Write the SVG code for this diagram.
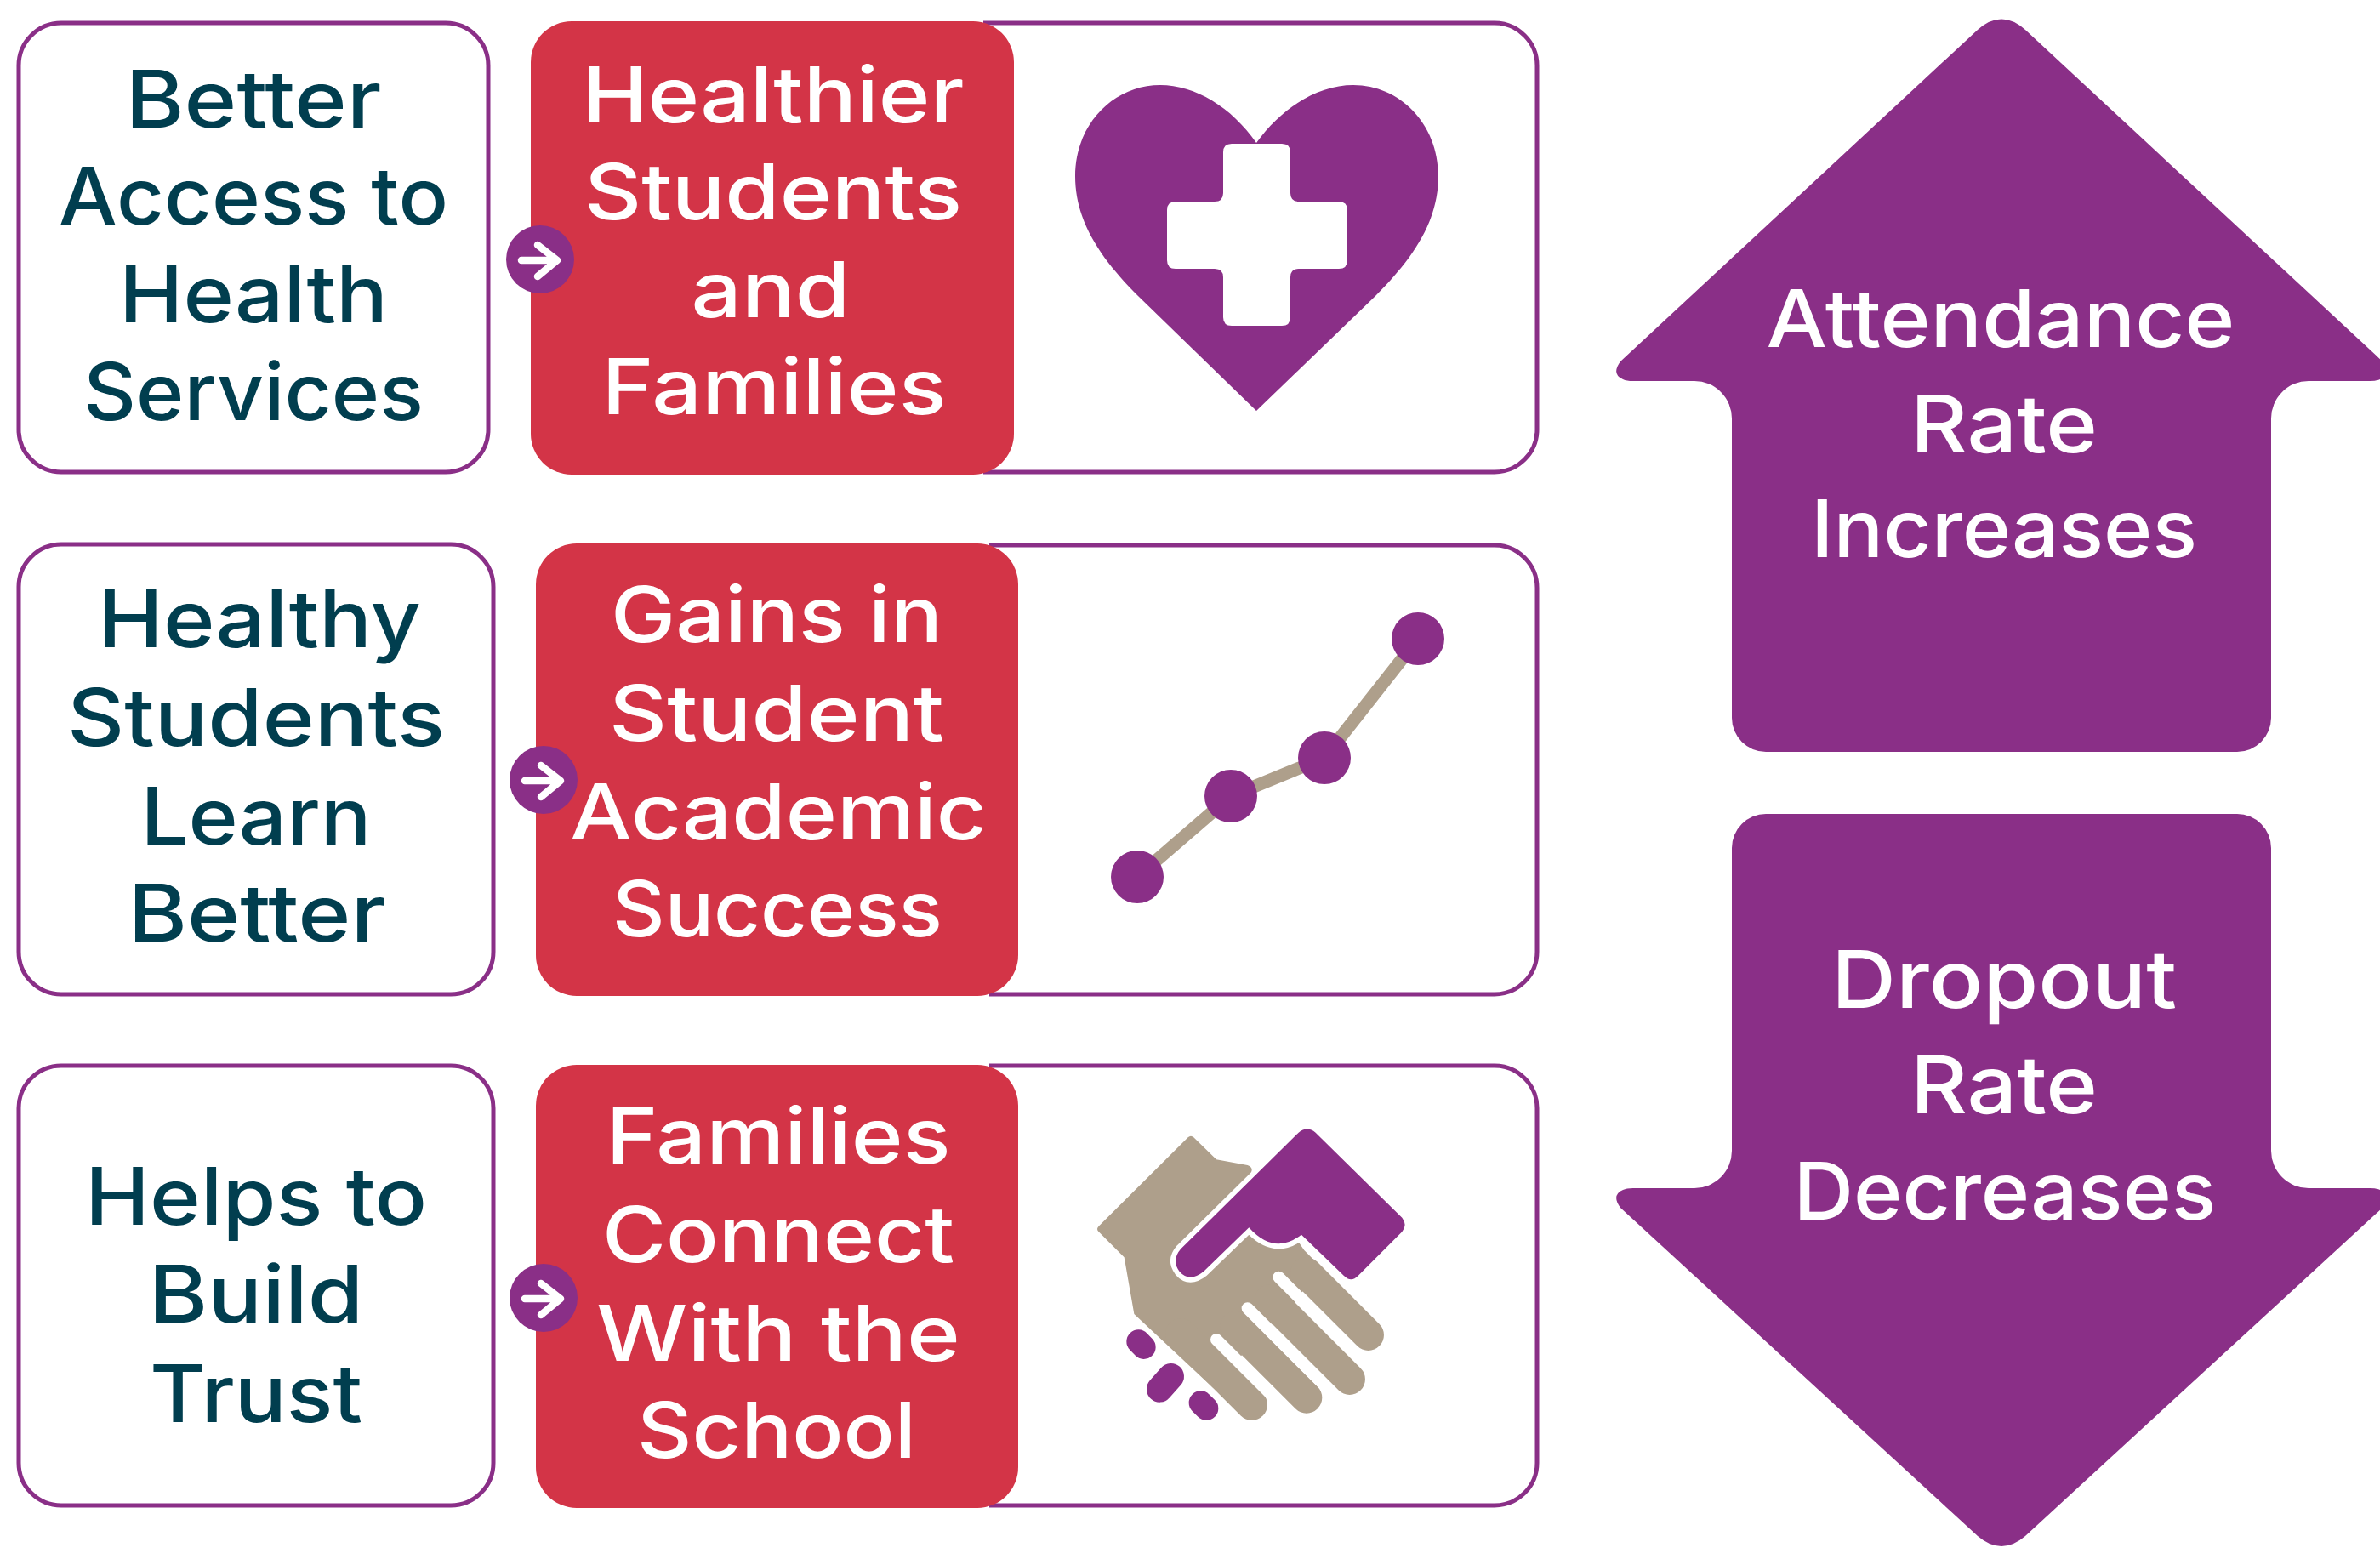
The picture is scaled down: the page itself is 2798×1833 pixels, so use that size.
<svg xmlns="http://www.w3.org/2000/svg" width="2798" height="1833" viewBox="0 0 2798 1833">
<style>
text{font-family:"Inter","Open Sans","Liberation Sans",sans-serif;font-weight:450;font-size:93px;text-anchor:middle}
.dark{fill:#013e4f}
.white{fill:#fff;font-size:91px}
.big{fill:#fff;font-size:94px}
.outline{fill:#fff;stroke:#8a2f87;stroke-width:5}
.red{fill:#d33447}
.purple{fill:#8a2f87}
.tan{fill:#ae9f8b}
.arrowline{fill:none;stroke:#fff;stroke-width:8.5;stroke-linecap:round;stroke-linejoin:round}
</style>
<defs>
<g id="arrow-badge">
<circle class="purple" cx="0" cy="0" r="40"/>
<path class="arrowline" d="M-22,1 H20 M-3,-17 L20,1 L-3,20"/>
</g>
</defs>
<rect width="2798" height="1833" fill="#fff"/>

<g id="cause-1">
<rect class="outline" x="22" y="27" width="552" height="528" rx="50"/>
<text class="dark" x="298" y="150" textLength="301" lengthAdjust="spacingAndGlyphs">Better</text>
<text class="dark" x="298" y="264" textLength="458" lengthAdjust="spacingAndGlyphs">Access to</text>
<text class="dark" x="298" y="379" textLength="316" lengthAdjust="spacingAndGlyphs">Health</text>
<text class="dark" x="298" y="494" textLength="400" lengthAdjust="spacingAndGlyphs">Services</text>
</g>
<g id="effect-1">
<path class="outline" d="M1156,27 H1757 A50,50 0 0 1 1807,77 V505 A50,50 0 0 1 1757,555 H1156"/>
<rect class="red" x="624" y="25" width="568" height="533" rx="48"/>
<text class="white" x="909" y="144" textLength="449" lengthAdjust="spacingAndGlyphs">Healthier</text>
<text class="white" x="909" y="258" textLength="444" lengthAdjust="spacingAndGlyphs">Students</text>
<text class="white" x="906" y="373" textLength="187" lengthAdjust="spacingAndGlyphs">and</text>
<text class="white" x="910" y="487" textLength="405" lengthAdjust="spacingAndGlyphs">Families</text>
<g id="heart-icon">
<path class="purple" d="M1477,483 L1338,348 C1296,306 1264,262 1264,207 C1264,145 1310,100 1364,100 C1405,100 1448,126 1477,168 C1507,126 1550,100 1591,100 C1645,100 1691,145 1691,207 C1691,262 1659,306 1617,348 Z"/>
<path fill="#fff" d="M1448,169 H1507 Q1517,169 1517,179 V227 Q1517,237 1527,237 H1574 Q1584,237 1584,247 V306 Q1584,316 1574,316 H1527 Q1517,316 1517,326 V373 Q1517,383 1507,383 H1448 Q1438,383 1438,373 V326 Q1438,316 1428,316 H1382 Q1372,316 1372,306 V247 Q1372,237 1382,237 H1428 Q1438,237 1438,227 V179 Q1438,169 1448,169 Z"/>
</g>
</g>

<g id="cause-2">
<rect class="outline" x="22" y="640" width="558" height="529" rx="50"/>
<text class="dark" x="305" y="761" textLength="380" lengthAdjust="spacingAndGlyphs">Healthy</text>
<text class="dark" x="301" y="877" textLength="444" lengthAdjust="spacingAndGlyphs">Students</text>
<text class="dark" x="301" y="993" textLength="271" lengthAdjust="spacingAndGlyphs">Learn</text>
<text class="dark" x="302" y="1107" textLength="303" lengthAdjust="spacingAndGlyphs">Better</text>
</g>
<g id="effect-2">
<path class="outline" d="M1163,641 H1757 A50,50 0 0 1 1807,691 V1119 A50,50 0 0 1 1757,1169 H1163"/>
<rect class="red" x="630" y="639" width="567" height="532" rx="48"/>
<text class="white" x="913" y="755" textLength="390" lengthAdjust="spacingAndGlyphs">Gains in</text>
<text class="white" x="913" y="871" textLength="394" lengthAdjust="spacingAndGlyphs">Student</text>
<text class="white" x="915" y="987" textLength="490" lengthAdjust="spacingAndGlyphs">Academic</text>
<text class="white" x="914" y="1101" textLength="388" lengthAdjust="spacingAndGlyphs">Success</text>
<g id="chart-icon">
<path fill="none" stroke="#ae9f8b" stroke-width="15" d="M1337,1031 L1447,936 L1557,891 L1667,751"/>
<circle class="purple" cx="1337" cy="1031" r="31"/>
<circle class="purple" cx="1447" cy="936" r="31"/>
<circle class="purple" cx="1557" cy="891" r="31"/>
<circle class="purple" cx="1667" cy="751" r="31"/>
</g>
</g>

<g id="cause-3">
<rect class="outline" x="22" y="1253" width="558" height="517" rx="50"/>
<text class="dark" x="301" y="1440" textLength="402" lengthAdjust="spacingAndGlyphs">Helps to</text>
<text class="dark" x="301" y="1555" textLength="253" lengthAdjust="spacingAndGlyphs">Build</text>
<text class="dark" x="301" y="1672" textLength="250" lengthAdjust="spacingAndGlyphs">Trust</text>
</g>
<g id="effect-3">
<path class="outline" d="M1163,1253 H1757 A50,50 0 0 1 1807,1303 V1720 A50,50 0 0 1 1757,1770 H1163"/>
<rect class="red" x="630" y="1252" width="567" height="521" rx="48"/>
<text class="white" x="915" y="1368" textLength="405" lengthAdjust="spacingAndGlyphs">Families</text>
<text class="white" x="915" y="1484" textLength="414" lengthAdjust="spacingAndGlyphs">Connect</text>
<text class="white" x="915" y="1600" textLength="428" lengthAdjust="spacingAndGlyphs">With the</text>
<text class="white" x="913" y="1714" textLength="328" lengthAdjust="spacingAndGlyphs">School</text>
<g id="handshake-icon" transform="translate(1250,1300) scale(0.3333)">
<path class="tan" d="M125,425 L440,112 Q450,102 460,112 L540,190 L650,210 Q672,218 662,238 L850,510 L900,560 L830,680 L720,790 L610,900 L530,997 L250,735 L215,535 L125,445 Q115,435 125,425 Z"/>
<path fill="none" stroke="#ae9f8b" stroke-width="110" stroke-linecap="round" d="M856,589 L1076,809 M730,685 L1010,965 M608,780 L858,1030 M415,805 L665,1055"/>
<path fill="none" stroke="#fff" stroke-width="42" stroke-linecap="round" d="M760,605 L1060,905 M650,715 L990,1055 M540,825 L840,1125"/>
<path class="purple" stroke="#fff" stroke-width="36" paint-order="stroke" d="M830,95 Q860,70 890,95 L1195,395 Q1215,420 1195,445 L1040,600 Q1015,625 990,600 L840,455 Q745,530 655,430 L495,585 Q445,625 410,585 Q380,545 415,505 Z"/>
<path fill="none" stroke="#8a2f87" stroke-width="84" stroke-linecap="round" d="M265,832 L284,852 M485,1048 L505,1068"/>
<path fill="none" stroke="#8a2f87" stroke-width="92" stroke-linecap="round" d="M340,1000 L380,955"/>
</g>
</g>

<g id="connectors">
<use href="#arrow-badge" x="635" y="305"/>
<use href="#arrow-badge" x="639" y="917"/>
<use href="#arrow-badge" x="639" y="1526"/>
</g>

<g id="attendance-up">
<path class="purple" d="M2325,35 Q2353,10 2381,35 L2801,425 Q2812,440 2798,446 Q2794,448 2786,448 L2714,448 A44,44 0 0 0 2670,492 L2670,844 A40,40 0 0 1 2630,884 L2076,884 A40,40 0 0 1 2036,844 L2036,492 A44,44 0 0 0 1992,448 L1920,448 Q1912,448 1908,446 Q1894,440 1905,425 Z"/>
<text class="big" x="2352" y="408" textLength="551" lengthAdjust="spacingAndGlyphs">Attendance</text>
<text class="big" x="2356" y="532" textLength="220" lengthAdjust="spacingAndGlyphs">Rate</text>
<text class="big" x="2356" y="655" textLength="454" lengthAdjust="spacingAndGlyphs">Increases</text>
</g>
<g id="dropout-down">
<path class="purple" d="M2076,957 L2630,957 A40,40 0 0 1 2670,997 L2670,1353 A44,44 0 0 0 2714,1397 L2786,1397 Q2794,1397 2798,1399 Q2812,1405 2801,1420 L2381,1806 Q2353,1830 2325,1806 L1905,1420 Q1894,1405 1908,1399 Q1912,1397 1920,1397 L1992,1397 A44,44 0 0 0 2036,1353 L2036,997 A40,40 0 0 1 2076,957 Z"/>
<text class="big" x="2356" y="1185" textLength="406" lengthAdjust="spacingAndGlyphs">Dropout</text>
<text class="big" x="2356" y="1309" textLength="220" lengthAdjust="spacingAndGlyphs">Rate</text>
<text class="big" x="2357" y="1434" textLength="497" lengthAdjust="spacingAndGlyphs">Decreases</text>
</g>
</svg>
